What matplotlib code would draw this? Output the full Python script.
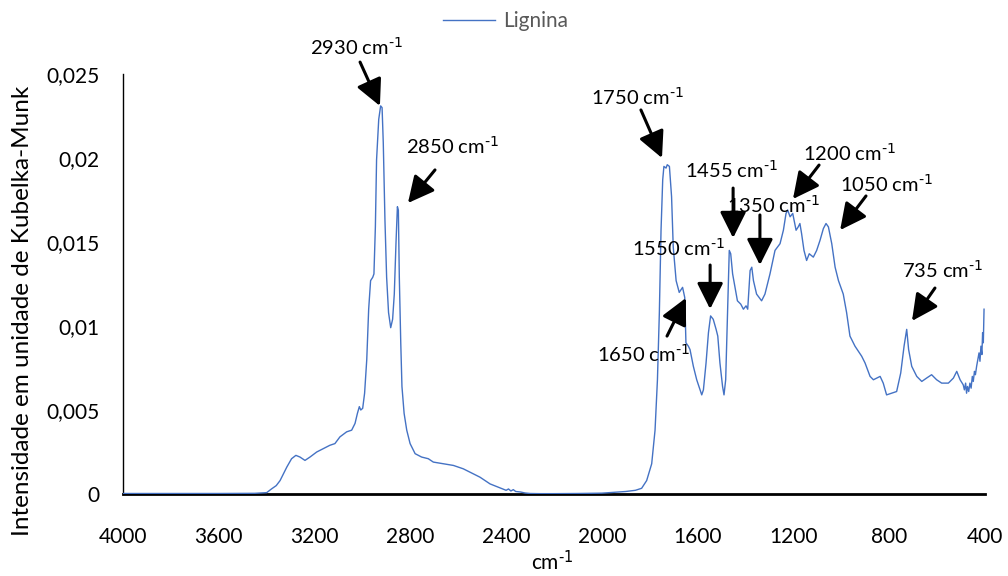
import matplotlib
matplotlib.use("Agg")
import matplotlib.pyplot as plt

plt.rcParams['font.family'] = ['Lato', 'DejaVu Sans']
plt.rcParams['mathtext.default'] = 'regular'

# ---- data ----
wavenumber = [4000, 3800, 3600, 3450, 3400, 3380, 3360, 3344, 3316, 3296, 3278, 3261, 3240, 3219,
              3191, 3163, 3136, 3115, 3094, 3066, 3045, 3031, 3021, 3013, 3007, 2999, 2991, 2982,
              2974, 2966, 2957, 2952, 2946, 2941, 2932, 2924, 2918, 2913, 2906, 2899, 2891, 2882,
              2874, 2867, 2860, 2854, 2850, 2846, 2840, 2835, 2826, 2815, 2801, 2780, 2753, 2725,
              2704, 2662, 2620, 2579, 2537, 2509, 2467, 2425, 2400, 2390, 2380, 2370, 2360, 2340,
              2321, 2300, 2258, 2200, 2100, 2000, 1950, 1900, 1860, 1834, 1813, 1792, 1778, 1768,
              1760, 1753, 1746, 1741, 1732, 1727, 1718, 1709, 1702, 1690, 1677, 1663, 1654, 1649,
              1639, 1632, 1618, 1604, 1583, 1576, 1565, 1555, 1546, 1535, 1523, 1516, 1507, 1496,
              1490, 1483, 1475, 1468, 1462, 1454, 1444, 1434, 1420, 1409, 1398, 1391, 1381, 1374,
              1367, 1354, 1333, 1319, 1298, 1277, 1256, 1242, 1231, 1224, 1214, 1203, 1189, 1180,
              1173, 1166, 1156, 1145, 1134, 1117, 1103, 1089, 1075, 1064, 1054, 1040, 1026, 1012,
              992, 978, 964, 943, 915, 901, 880, 866, 838, 825, 811, 790, 769, 752, 738, 727, 719,
              706, 685, 664, 644, 623, 602, 581, 553, 532, 518, 504, 491, 486, 481, 477, 473, 468,
              463, 458, 453, 449, 444, 440, 435, 430, 425, 421, 417, 413, 410, 407, 404]
intensity = [0.00003, 0.00003, 0.00003, 0.00004, 0.00008, 0.0003, 0.0005, 0.0008, 0.0016, 0.0021,
             0.0023, 0.0022, 0.0020, 0.0022, 0.0025, 0.0027, 0.0029, 0.0030, 0.0034, 0.0037, 0.0038,
             0.0042, 0.0048, 0.0052, 0.0050, 0.0051, 0.0060, 0.0080, 0.0110, 0.0127, 0.0129, 0.0131,
             0.0159, 0.0199, 0.0223, 0.0231, 0.0230, 0.0209, 0.0163, 0.0129, 0.0108, 0.0099, 0.0104,
             0.0119, 0.0149, 0.0171, 0.0169, 0.0129, 0.0090, 0.0064, 0.0048, 0.0038, 0.0030, 0.0024,
             0.0022, 0.0021, 0.0019, 0.0018, 0.0017, 0.0015, 0.0012, 0.0010, 0.0006, 0.00036,
             0.00022, 0.00030, 0.00018, 0.00026, 0.00015, 0.00012, 0.00006, 0.00003, 0.00002,
             0.00002, 0.00003, 0.00005, 0.0001, 0.00015, 0.00022, 0.00034, 0.0008, 0.0018, 0.0038,
             0.0068, 0.0108, 0.0157, 0.0187, 0.0195, 0.0194, 0.0196, 0.0195, 0.0177, 0.0147, 0.0127,
             0.0120, 0.0123, 0.0117, 0.0090, 0.0088, 0.0086, 0.0076, 0.0068, 0.0059, 0.0062, 0.0078,
             0.0096, 0.0106, 0.0104, 0.0098, 0.0094, 0.0078, 0.0064, 0.0059, 0.0068, 0.0108, 0.0145,
             0.0143, 0.0131, 0.0123, 0.0115, 0.0113, 0.0110, 0.0112, 0.0110, 0.0133, 0.0135, 0.0127,
             0.0119, 0.0115, 0.0119, 0.0131, 0.0145, 0.0149, 0.0157, 0.0167, 0.0169, 0.0165, 0.0167,
             0.0157, 0.0159, 0.0161, 0.0155, 0.0145, 0.0139, 0.0143, 0.0141, 0.0145, 0.0151, 0.0158,
             0.0161, 0.0159, 0.0149, 0.0135, 0.0127, 0.0119, 0.0108, 0.0094, 0.0088, 0.0082, 0.0078,
             0.0070, 0.0068, 0.0070, 0.0066, 0.0059, 0.0060, 0.0061, 0.0072, 0.0088, 0.0098, 0.0086,
             0.0076, 0.0070, 0.0067, 0.0069, 0.0071, 0.0068, 0.0066, 0.0066, 0.0069, 0.0073, 0.0068,
             0.0065, 0.0062, 0.0066, 0.0060, 0.0064, 0.0061, 0.0066, 0.0063, 0.0070, 0.0067, 0.0073,
             0.0071, 0.0076, 0.0080, 0.0084, 0.0079, 0.0088, 0.0083, 0.0096, 0.0090, 0.0110]

x_ticks = [4000, 3600, 3200, 2800, 2400, 2000, 1600, 1200, 800, 400]
x_tick_labels = ["4000", "3600", "3200", "2800", "2400", "2000", "1600", "1200", "800", "400"]
y_ticks = [0, 0.005, 0.01, 0.015, 0.02, 0.025]
y_tick_labels = ["0", "0,005", "0,01", "0,015", "0,02", "0,025"]

series_name = "Lignina"
peak_labels = ["2930", "2850", "1750", "1455", "1350", "1200", "1050", "1550", "1650", "735"]
# text anchor (wavenumber, intensity), arrow tail, arrow tip
label_pos = [(3023, 0.02661), (2626, 0.02071), (1853, 0.02363), (1457, 0.01929), (1285, 0.01720),
             (968, 0.02030), (813, 0.01845), (1682, 0.01464), (1828, 0.00833), (579, 0.01333)]
arrow_tail = [(3010, 0.02571), (2697, 0.01929), (1837, 0.02286), (1452, 0.01821), (1340, 0.01661),
              (1093, 0.01958), (897, 0.01774), (1548, 0.01363), (1728, 0.00940), (609, 0.01226)]
arrow_tip = [(2927, 0.02310), (2810, 0.01732), (1749, 0.02000), (1452, 0.01524), (1340, 0.01363),
             (1202, 0.01756), (1005, 0.01571), (1548, 0.01101), (1649, 0.01167), (705, 0.01030)]

SUP = r"$^{\text{-1}}$"

# ---- figure ----
fig = plt.figure(figsize=(10.08, 5.76), dpi=100)
ax = fig.add_axes([123 / 1008, 1 - 494 / 576, (985 - 123) / 1008, (494 - 74) / 576])

line, = ax.plot(wavenumber, intensity, color="#4472C4", lw=1.0, label=series_name, zorder=3)

ax.set_xlim(4000, 400)
ax.set_ylim(0, 0.025)
ax.set_xticks(x_ticks)
ax.set_xticklabels(x_tick_labels)
ax.set_yticks(y_ticks)
ax.set_yticklabels(y_tick_labels)
ax.tick_params(axis="both", length=0, labelsize=15, colors="black")
ax.tick_params(axis="x", pad=24)
ax.tick_params(axis="y", pad=17)

for side in ["top", "right"]:
    ax.spines[side].set_visible(False)
ax.spines["left"].set_color("black")
ax.spines["left"].set_linewidth(1.0)
ax.spines["bottom"].set_color("black")
ax.spines["bottom"].set_linewidth(2.0)
ax.spines["bottom"].set_zorder(2)

fig.text(23 / 1008, 1 - 311 / 576, "Intensidade em unidade de Kubelka-Munk",
         rotation=90, ha="center", va="center", fontsize=17.5)
fig.text(552 / 1008, 1 - 562 / 576, "cm" + SUP, ha="center", va="center", fontsize=15)

for lab, tp, tl, tip in zip(peak_labels, label_pos, arrow_tail, arrow_tip):
    ax.text(tp[0], tp[1], lab + " cm" + SUP, ha="center", va="center", fontsize=14.5,
            clip_on=False, zorder=5)
    ax.annotate("", xy=tip, xytext=tl, annotation_clip=False,
                arrowprops=dict(arrowstyle="-|>,head_length=0.8,head_width=0.4",
                                color="black", lw=2.2, mutation_scale=20,
                                shrinkA=0, shrinkB=0), zorder=6)

leg = fig.legend(handles=[line], loc="center", bbox_to_anchor=(505.5 / 1008, 1 - 21 / 576),
                 frameon=False, fontsize=15, handlelength=2.5, handletextpad=0.35,
                 borderpad=0, borderaxespad=0)
for t in leg.get_texts():
    t.set_color("#595959")

fig.savefig("out.png", dpi=100)
